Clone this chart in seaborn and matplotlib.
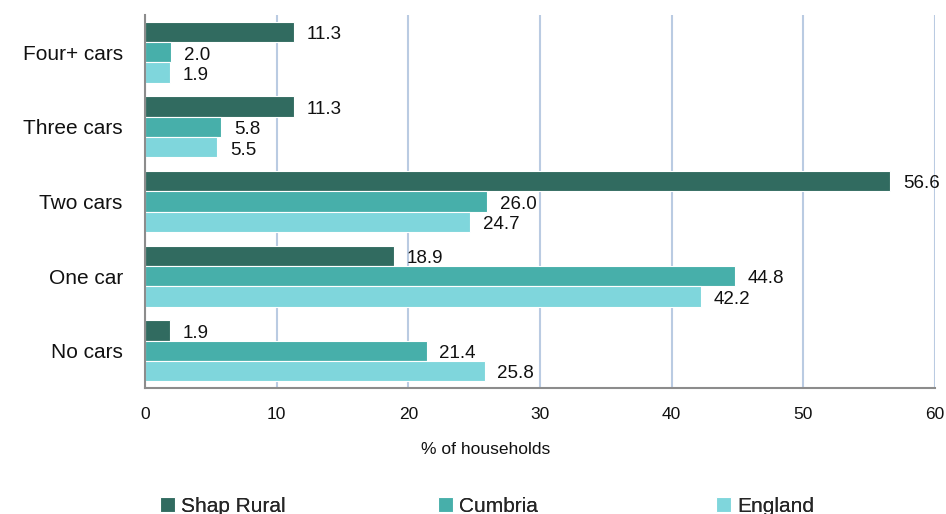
import matplotlib
matplotlib.use("Agg")

import numpy as np
import pandas as pd
import matplotlib.pyplot as plt
import seaborn as sns
from matplotlib.ticker import FixedLocator

kategorie = ["Four+ cars", "Three cars", "Two cars", "One car", "No cars"]
obszary = ["Shap Rural", "Cumbria", "England"]
shap = [11.3, 11.3, 56.6, 18.9, 1.9]
cumbria = [2.0, 5.8, 26.0, 44.8, 21.4]
england = [1.9, 5.5, 24.7, 42.2, 25.8]
kolory = ["#316B60", "#47AFAA", "#7FD6DC"]

df = pd.DataFrame({
    "kategoria": kategorie * 3,
    "obszar": np.repeat(obszary, len(kategorie)),
    "wartosc": shap + cumbria + england,
})

sns.set_style("white")
plt.rcParams["font.family"] = ["Liberation Sans", "DejaVu Sans"]

fig = plt.figure(figsize=(9.46, 5.14), dpi=100)
ax = fig.add_axes([145 / 946, 1 - 388 / 514, 790 / 946, 373 / 514])

sns.barplot(data=df, y="kategoria", x="wartosc", hue="obszar",
            order=kategorie, hue_order=obszary, palette=kolory, saturation=1,
            orient="h", width=0.82, edgecolor="white", linewidth=0.8, ax=ax)

handles, labels = ax.get_legend_handles_labels()
if ax.legend_ is not None:
    ax.legend_.remove()

# etykiety wartości
for cont in ax.containers:
    teksty = ax.bar_label(cont, fmt="%.1f", padding=9, fontsize=13.5, color="#111111")
    for t in teksty:
        t.xyann = (t.xyann[0], -2)

ax.set_xlim(0, 60)
ax.set_ylim(len(kategorie) - 0.5, -0.5)
ax.set_xticks(range(0, 61, 10))
ax.set_xlabel("")
ax.set_ylabel("")

ax.xaxis.grid(True, color="#BACBE2", linewidth=1.5)
ax.yaxis.grid(False)
ax.set_axisbelow(True)

for s in ["top", "right"]:
    ax.spines[s].set_visible(False)
for s in ["left", "bottom"]:
    ax.spines[s].set_color("#8C8C8C")
    ax.spines[s].set_linewidth(1.5)

ax.tick_params(axis="x", direction="out", length=5, width=1.5, color="#8C8C8C",
               labelsize=12.5, pad=9, labelcolor="#111111")
ax.tick_params(axis="y", which="major", length=0, pad=16, labelsize=15, labelcolor="#111111")
ax.yaxis.set_minor_locator(FixedLocator(np.arange(-0.5, len(kategorie), 1.0)))
ax.tick_params(axis="y", which="minor", direction="out", length=5, width=1.5, color="#8C8C8C")

fig.text(486 / 946, 1 - 450 / 514, "% of households", ha="center", va="center",
         fontsize=12.5, color="#111111")

# legenda w trzech osobnych miejscach
pozycje = [160, 438, 716]
for h, l, x in zip(handles, labels, pozycje):
    leg = fig.legend([h], [l], loc="center left", bbox_to_anchor=(x / 946, 8 / 514),
                     frameon=False, fontsize=15, handlelength=0.7, handleheight=0.7,
                     handletextpad=0.3, borderpad=0, borderaxespad=0)
    fig.add_artist(leg)

plt.savefig("out.png", dpi=100)
